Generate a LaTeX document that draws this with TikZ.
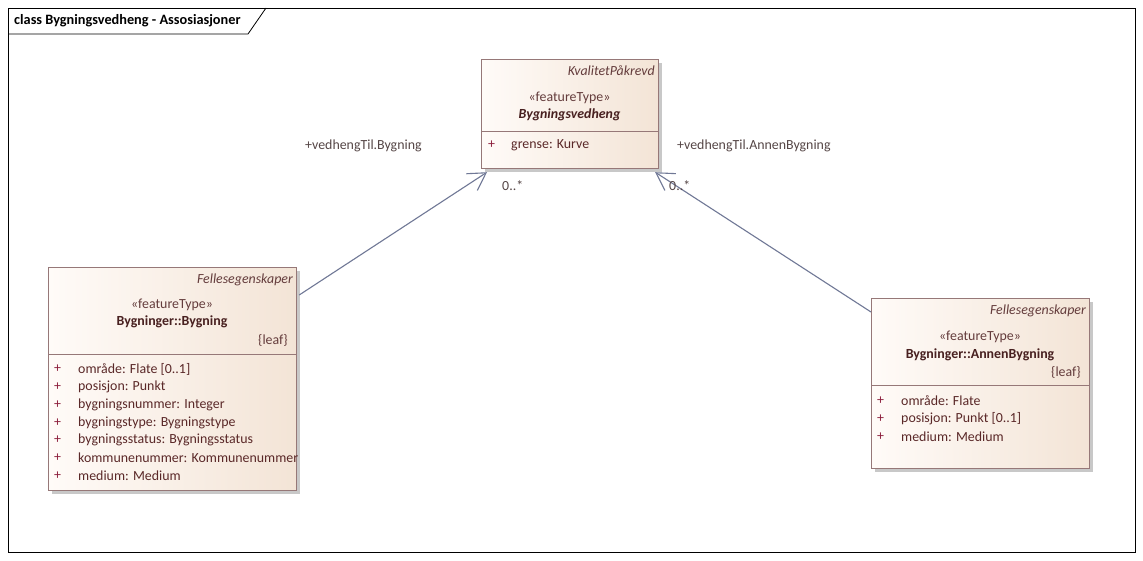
\documentclass[tikz,border=0pt]{standalone}
\usepackage{fontspec}
\setmainfont{Carlito}
\usetikzlibrary{arrows.meta,calc}

\definecolor{classborder}{RGB}{150,120,120}
\definecolor{classfillA}{RGB}{255,251,248}
\definecolor{classfillB}{RGB}{243,228,214}
\definecolor{classshadow}{RGB}{200,200,200}
\definecolor{attrtext}{RGB}{90,40,40}
\definecolor{plustext}{RGB}{140,30,60}
\definecolor{stereotext}{RGB}{100,60,60}
\definecolor{assocline}{RGB}{112,120,150}
\definecolor{labeltext}{RGB}{85,70,70}

\newcommand{\diafont}{\fontsize{13.9}{16}\selectfont}

\tikzset{
  classbox/.style={draw=classborder, line width=1.2pt, rectangle, inner sep=0pt,
    left color=classfillA, right color=classfillB},
  shadowbox/.style={fill=classshadow, draw=none},
  sep/.style={draw=classborder, line width=1pt},
  txt/.style={inner sep=0pt, font=\diafont, text=attrtext},
  italtxt/.style={txt, font=\diafont\itshape, text=stereotext, anchor=east},
  stereo/.style={txt, text=stereotext},
  cname/.style={txt, font=\diafont\bfseries, text=attrtext!80!black},
  plus/.style={txt, text=plustext, anchor=west},
  attr/.style={txt, anchor=west},
  rolelabel/.style={txt, text=labeltext, anchor=west},
  assoc/.style={draw=assocline, line width=1.1pt,
    -{Straight Barb[length=17pt,width=20pt,line width=1.1pt]}},
}

\begin{document}
\begin{tikzpicture}[x=1pt,y=-1pt]
\useasboundingbox (0,0) rectangle (1143,560);
\fill[white] (0,0) rectangle (1143,560);

% diagram frame with its title tab
\draw[line width=0.8pt] (8,8) rectangle (1135,552);
\draw[line width=0.8pt] (8,34) -- (248,34) -- (266,8);
\node[txt, anchor=west, text=black, font=\fontsize{14.3}{16}\selectfont\bfseries] (title) at (14,21) {class Bygningsvedheng - Assosiasjoner};

% class Bygningsvedheng
\fill[shadowbox] (485,63) rectangle (662,172);
\node[classbox, minimum width=177pt, minimum height=109pt, anchor=north west] (vedheng) at (481,59) {};
\draw[sep] (481,131) -- (658,131);
\node[italtxt] (vq) at (655,71) {KvalitetPåkrevd};
\node[stereo] (vs) at (569.5,98) {«featureType»};
\node[cname, font=\diafont\bfseries\itshape] (vn) at (569.5,115) {Bygningsvedheng};
\node[plus] (vp1) at (488,145) {+};
\node[attr] (va1) at (511,145) {grense: Kurve};

% class Bygninger::Bygning
\fill[shadowbox] (52,271) rectangle (300,494);
\node[classbox, minimum width=248pt, minimum height=223pt, anchor=north west] (bygning) at (48,267) {};
\draw[sep] (48,354) -- (296,354);
\node[italtxt] (bq) at (293,280) {Fellesegenskaper};
\node[stereo] (bs) at (172,305) {«featureType»};
\node[cname] (bn) at (172,322) {Bygninger::Bygning};
\node[stereo, anchor=east] (bl) at (288,340) {\{leaf\}};
\foreach \y/\t [count=\i] in {369/område: Flate [0..1],
                              387/posisjon: Punkt,
                              405/bygningsnummer: Integer,
                              423/bygningstype: Bygningstype,
                              440/bygningsstatus: Bygningsstatus,
                              458/kommunenummer: Kommunenummer,
                              476/medium: Medium}{
  \node[plus] (bp\i) at (54,\y) {+};
  \node[attr] (ba\i) at (78,\y) {\t};
}

% class Bygninger::AnnenBygning
\fill[shadowbox] (875,302) rectangle (1093,472);
\node[classbox, minimum width=218pt, minimum height=170pt, anchor=north west] (annen) at (871,298) {};
\draw[sep] (871,385) -- (1089,385);
\node[italtxt] (aq) at (1086,311) {Fellesegenskaper};
\node[stereo] (as) at (980,337) {«featureType»};
\node[cname] (an) at (980,355) {Bygninger::AnnenBygning};
\node[stereo, anchor=east] (al) at (1081,372) {\{leaf\}};
\foreach \y/\t [count=\i] in {401/område: Flate,
                              419/posisjon: Punkt [0..1],
                              437/medium: Medium}{
  \node[plus] (ap\i) at (877,\y) {+};
  \node[attr] (aa\i) at (901,\y) {\t};
}

% associations
\coordinate (e1) at ($(vedheng.south west)+(6,3)$);
\coordinate (e2) at ($(vedheng.south east)+(-4,3)$);
\coordinate (s1) at ($(bygning.north east)+(2,28)$);
\coordinate (s2) at ($(annen.north west)+(0,14)$);
\draw[assoc] (s1) -- (e1);
\draw[assoc] (s2) -- (e2);

\node[rolelabel] (r1) at (305,146) {+vedhengTil.Bygning};
\node[rolelabel] (m1) at (502,186) {0..*};
\node[rolelabel] (r2) at (677,146) {+vedhengTil.AnnenBygning};
\node[rolelabel] (m2) at (669,186) {0..*};
\end{tikzpicture}
\end{document}
